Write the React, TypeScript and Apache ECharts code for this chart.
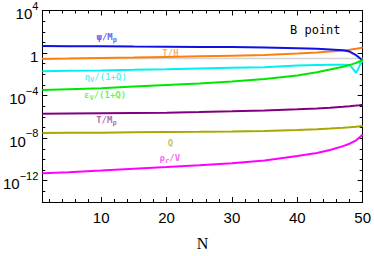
import React, { useEffect, useRef } from 'react';
import * as echarts from 'echarts';

// e-folds N (x axis)
const N = [1, 5, 10, 15, 20, 25, 30, 35, 40, 43, 45, 47, 48, 49, 49.5, 50];

// series values
const psiOverMp = [4.57, 4.47, 4.27, 4.07, 3.98, 3.8, 3.63, 3.39, 2.82, 2.51, 2.19, 1.82, 1.38, 0.631, 0.355, 0.2];
const tOverH = [0.282, 0.302, 0.339, 0.372, 0.427, 0.49, 0.562, 0.646, 0.891, 1.12, 1.41, 1.78, 2.0, 2.51, 2.88, 3.31];
const etaOver1Q = [0.02, 0.0214, 0.0234, 0.0263, 0.0302, 0.0355, 0.0417, 0.0468, 0.0676, 0.0759, 0.0794, 0.0794, 0.0759, 0.0141, 0.0562, 0.219];
const epsOver1Q = [3.31e-4, 3.98e-4, 5.01e-4, 7.08e-4, 1.0e-3, 1.41e-3, 2.14e-3, 3.55e-3, 7.94e-3, 0.0158, 0.0282, 0.0525, 0.0741, 0.12, 0.162, 0.219];
const tOverMp = [1.95e-6, 2.04e-6, 2.19e-6, 2.34e-6, 2.51e-6, 2.82e-6, 3.31e-6, 4.07e-6, 5.13e-6, 6.17e-6, 7.24e-6, 8.91e-6, 1.0e-5, 1.15e-5, 1.26e-5, 1.41e-5];
const qValues = [3.02e-8, 3.16e-8, 3.31e-8, 3.55e-8, 3.8e-8, 3.98e-8, 4.27e-8, 4.79e-8, 5.75e-8, 6.76e-8, 7.94e-8, 9.55e-8, 1.05e-7, 1.2e-7, 1.29e-7, 1.41e-7];
const rhoROverV = [5.01e-12, 6.31e-12, 8.91e-12, 1.32e-11, 1.91e-11, 2.82e-11, 4.47e-11, 7.94e-11, 2.09e-10, 3.98e-10, 7.59e-10, 1.78e-9, 3.02e-9, 6.31e-9, 1.12e-8, 2.19e-8];
const refLevel = 0.316;

// axis ticks
const xMajor = [10, 20, 30, 40, 50];
const xMinor = [2, 4, 6, 8, 10, 12, 14, 16, 18, 20, 22, 24, 26, 28, 30, 32, 34, 36, 38, 40, 42, 44, 46, 48];
const yMajorExp = [4, 0, -4, -8, -12];
const yMinorExp = [3, 2, 1, 0, -1, -2, -3, -4, -5, -6, -7, -8, -9, -10, -11, -12, -13];

// curve annotations: [text parts (base, sub, rest), N, value, color]
const annotations: [string, string, string, number, number, string][] = [
  ['ψ/M', 'p', '', 10.85, 17, '#3b3bf0'],
  ['T/H', '', '', 20.6, 1.0, '#ff9a3c'],
  ['η', 'V', '/(1+Q)', 10.7, 2.8e-3, '#33f0f0'],
  ['ε', 'V', '/(1+Q)', 10.6, 6.6e-5, '#3cf03c'],
  ['T/M', 'p', '', 10.8, 2.8e-7, '#994499'],
  ['Q', '', '', 20.6, 3.3e-9, '#b5b530'],
  ['ρ', 'r', '/V', 20.5, 7.1e-11, '#f040f0'],
];

const lg = (v: number) => Math.log10(v);

export default function App() {
  const ref = useRef<HTMLDivElement>(null);
  useEffect(() => {
    if (!ref.current) return;
    const chart = echarts.init(ref.current, null, { renderer: 'svg' });
    const mono = 'DejaVu Sans Mono';
    const line = (name: string, vals: number[], color: string, width = 2) => ({
      type: 'line',
      name,
      data: N.map((n, i) => [n, lg(vals[i])]),
      showSymbol: false,
      symbol: 'none',
      silent: true,
      lineStyle: { color, width },
      itemStyle: { color },
    });
    const axisLine = { show: true, onZero: false, lineStyle: { color: '#000', width: 1 } };
    const noLine = { show: false, onZero: false };
    const tick = (vals: number[], len: number) => ({
      show: true,
      inside: true,
      length: len,
      customValues: vals,
      lineStyle: { color: '#000', width: 1 },
    });
    const hiddenX = (pos: string, vals: number[], len: number, showLine: boolean) => ({
      type: 'value', min: 1, max: 50, position: pos,
      axisLine: showLine ? axisLine : noLine,
      axisTick: tick(vals, len),
      axisLabel: { show: false },
      splitLine: { show: false },
    });
    const hiddenY = (pos: string, vals: number[], len: number, showLine: boolean) => ({
      type: 'value', min: -14, max: 4, position: pos,
      axisLine: showLine ? axisLine : noLine,
      axisTick: tick(vals, len),
      axisLabel: { show: false },
      splitLine: { show: false },
    });
    const annData = annotations.map(([base, sub, rest, n, v, color]) => {
      let f = `{a|${base}}`;
      if (sub) f += `{s|${sub}}`;
      if (rest) f += `{a|${rest}}`;
      return {
        value: [n, lg(v)],
        label: {
          formatter: f,
          rich: {
            a: { fontFamily: mono, fontSize: 9, fontWeight: 'bold', color, lineHeight: 9, verticalAlign: 'top' },
            s: { fontFamily: mono, fontSize: 7, fontWeight: 'bold', color, lineHeight: 15 },
          },
        },
      };
    });
    chart.setOption({
      animation: false,
      backgroundColor: '#fff',
      grid: { left: 42, right: 11, top: 10, bottom: 48, containLabel: false },
      xAxis: [
        {
          type: 'value', min: 1, max: 50, position: 'bottom',
          axisLine,
          axisTick: tick(xMinor, 3),
          axisLabel: {
            customValues: xMajor, color: '#000', fontSize: 15,
            fontFamily: 'Liberation Sans', margin: 8,
          },
          splitLine: { show: false },
          name: 'N', nameLocation: 'middle', nameGap: 33,
          nameTextStyle: { fontFamily: 'Liberation Serif', fontSize: 16, color: '#000' },
        },
        hiddenX('bottom', xMajor, 5, false),
        hiddenX('top', xMinor, 3, true),
        hiddenX('top', xMajor, 5, false),
      ],
      yAxis: [
        {
          type: 'value', min: -14, max: 4, position: 'left',
          axisLine,
          axisTick: tick(yMinorExp, 3),
          axisLabel: {
            customValues: yMajorExp,
            margin: 4,
            formatter: (v: number) =>
              v === 0 ? '{b|1}' : v === 4 ? '{bt|10}{s|4}' : `{b|10}{s|${v < 0 ? '\u2212' + -v : v}}`,
            rich: {
              b: { fontFamily: 'Liberation Sans', fontSize: 15, color: '#000', lineHeight: 21, verticalAlign: 'bottom' },
              s: { fontFamily: 'Liberation Sans', fontSize: 11, color: '#000', lineHeight: 10, verticalAlign: 'top' },
              bt: { fontFamily: 'Liberation Sans', fontSize: 15, color: '#000', lineHeight: 21, verticalAlign: 'bottom', padding: [6, 0, 0, 0] },
            },
          },
          splitLine: { show: false },
        },
        hiddenY('left', yMajorExp, 5, false),
        hiddenY('right', yMinorExp, 3, true),
        hiddenY('right', yMajorExp, 5, false),
      ],
      series: [
        {
          type: 'line', data: [[1, lg(refLevel)], [50, lg(refLevel)]], showSymbol: false, symbol: 'none',
          silent: true, lineStyle: { color: '#d4d4d4', width: 1.5 },
        },
        line('T/H', tOverH, '#ff7f0e'),
        line('psi/Mp', psiOverMp, '#1010e6'),
        line('etaV/(1+Q)', etaOver1Q, '#00f0f0'),
        line('epsV/(1+Q)', epsOver1Q, '#00e600'),
        line('T/Mp', tOverMp, '#800080'),
        line('Q', qValues, '#a8a800'),
        line('rho_r/V', rhoROverV, '#ff00ff'),
        {
          type: 'scatter', symbolSize: 1, itemStyle: { color: 'rgba(0,0,0,0)' }, silent: true,
          label: { show: true, position: 'inside' },
          data: annData,
        },
      ],
      graphic: [
        {
          type: 'text', left: 290, top: 24,
          style: { text: 'B point', fontFamily: mono, fontSize: 12, fill: '#000' },
        },
      ],
    });
    return () => chart.dispose();
  }, []);
  return <div ref={ref} style={{ position: 'fixed', left: 0, top: 0, width: 374, height: 256, background: '#fff' }} />;
}
